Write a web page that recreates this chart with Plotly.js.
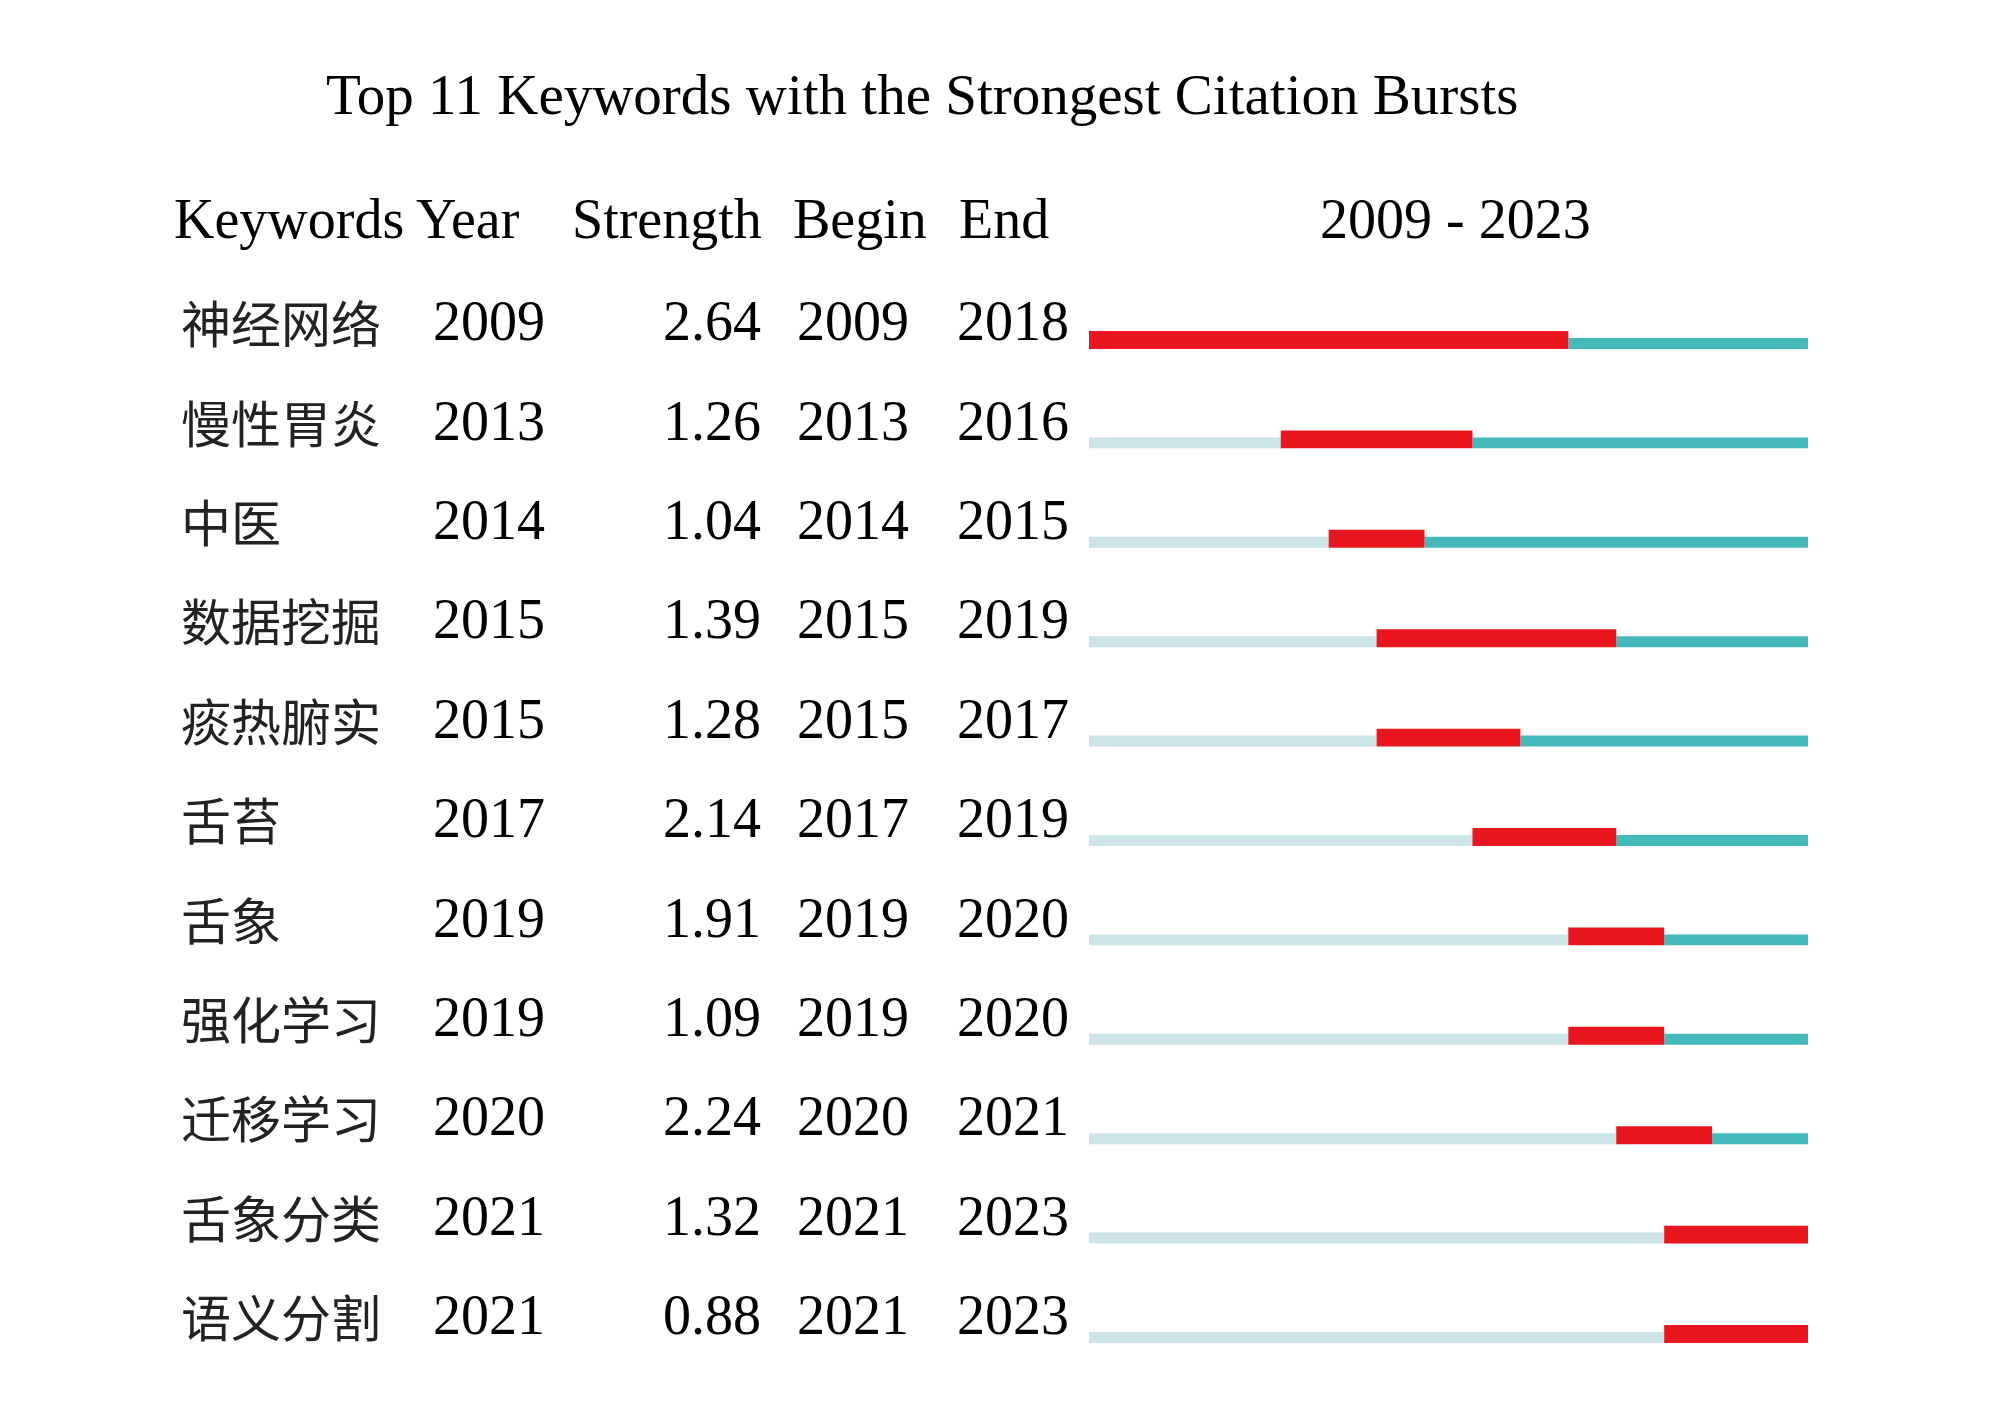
<!DOCTYPE html>
<html>
<head>
<meta charset="utf-8">
<script src="https://cdn.plot.ly/plotly-3.0.1.min.js"></script>
<style>html,body{margin:0;padding:0;background:#fff;}#chart{width:2000px;height:1417px;}</style>
</head>
<body>
<div id="chart"></div>
<script>
const keywords = ["神经网络","慢性胃炎","中医","数据挖掘","痰热腑实","舌苔","舌象","强化学习","迁移学习","舌象分类","语义分割"];
const years = [2009,2013,2014,2015,2015,2017,2019,2019,2020,2021,2021];
const strength = ["2.64","1.26","1.04","1.39","1.28","2.14","1.91","1.09","2.24","1.32","0.88"];
const begins = [2009,2013,2014,2015,2015,2017,2019,2019,2020,2021,2021];
const ends = [2018,2016,2015,2019,2017,2019,2020,2020,2021,2023,2023];
const spanStart = 2009, spanEnd = 2023;
const headers = ["Keywords Year","Strength","Begin","End","2009 - 2023"];
const titleText = "Top 11 Keywords with the Strongest Citation Bursts";

const rows = keywords.map((k,i)=>i);
const W = 2000, H = 1417;
const serif = "Liberation Serif, Times New Roman, serif";
const cjk = "Noto Sans CJK SC, sans-serif";

const traces = [
  { type:'bar', orientation:'h', y: rows, base: rows.map(()=>spanStart),
    x: begins.map(b=>b-spanStart), width:0.11, offset:-0.02,
    marker:{color:'#cde4e8', line:{width:0}}, hoverinfo:'skip' },
  { type:'bar', orientation:'h', y: rows, base: ends.map(e=>e+1),
    x: ends.map(e=>spanEnd+1-(e+1)), width:0.11, offset:-0.02,
    marker:{color:'#45b8bc', line:{width:0}}, hoverinfo:'skip' },
  { type:'bar', orientation:'h', y: rows, base: begins,
    x: begins.map((b,i)=>ends[i]+1-b), width:0.18, offset:-0.09,
    marker:{color:'#e8161e', line:{width:0}}, hoverinfo:'skip' }
];

const ann = [];
const px = x => x / W;
const py = y => 1 - y / H;
ann.push({text:titleText, xref:'paper', yref:'paper', x:px(922), y:py(94), xanchor:'center', yanchor:'middle', showarrow:false, font:{family:serif, size:57, color:'#000'}});
const hx = [172,570,791,957,1455];
headers.forEach((h,i)=>{
  ann.push({text:h, xref:'paper', yref:'paper', x:px(hx[i]), y:py(219), xanchor: i===4?'center':'left', yanchor:'middle', showarrow:false, font:{family:serif, size:56, color:'#000'}});
});
const dy = -0.19;
rows.forEach(i=>{
  ann.push({text:keywords[i], xref:'paper', yref:'y', x:px(179), y:i+dy, xanchor:'left', yanchor:'middle', showarrow:false, font:{family:cjk, size:50, color:'#222'}});
  ann.push({text:String(years[i]), xref:'paper', yref:'y', x:px(431), y:i+dy, xanchor:'left', yanchor:'middle', showarrow:false, font:{family:serif, size:56, color:'#000'}});
  ann.push({text:strength[i], xref:'paper', yref:'y', x:px(763), y:i+dy, xanchor:'right', yanchor:'middle', showarrow:false, font:{family:serif, size:56, color:'#000'}});
  ann.push({text:String(begins[i]), xref:'paper', yref:'y', x:px(795), y:i+dy, xanchor:'left', yanchor:'middle', showarrow:false, font:{family:serif, size:56, color:'#000'}});
  ann.push({text:String(ends[i]), xref:'paper', yref:'y', x:px(955), y:i+dy, xanchor:'left', yanchor:'middle', showarrow:false, font:{family:serif, size:56, color:'#000'}});
});

const layout = {
  width:W, height:H, margin:{l:0,r:0,t:0,b:0}, paper_bgcolor:'#fff', plot_bgcolor:'rgba(0,0,0,0)',
  showlegend:false, barmode:'overlay',
  xaxis:{domain:[1089/W, 1808/W], range:[spanStart, spanEnd+1], showgrid:false, zeroline:false, showticklabels:false, ticks:'', showline:false},
  yaxis:{range:[(H-340)/99.4, -340/99.4], showgrid:false, zeroline:false, showticklabels:false, ticks:'', showline:false},
  annotations: ann
};
Plotly.newPlot('chart', traces, layout, {staticPlot:true, displayModeBar:false});
</script>
</body>
</html>
